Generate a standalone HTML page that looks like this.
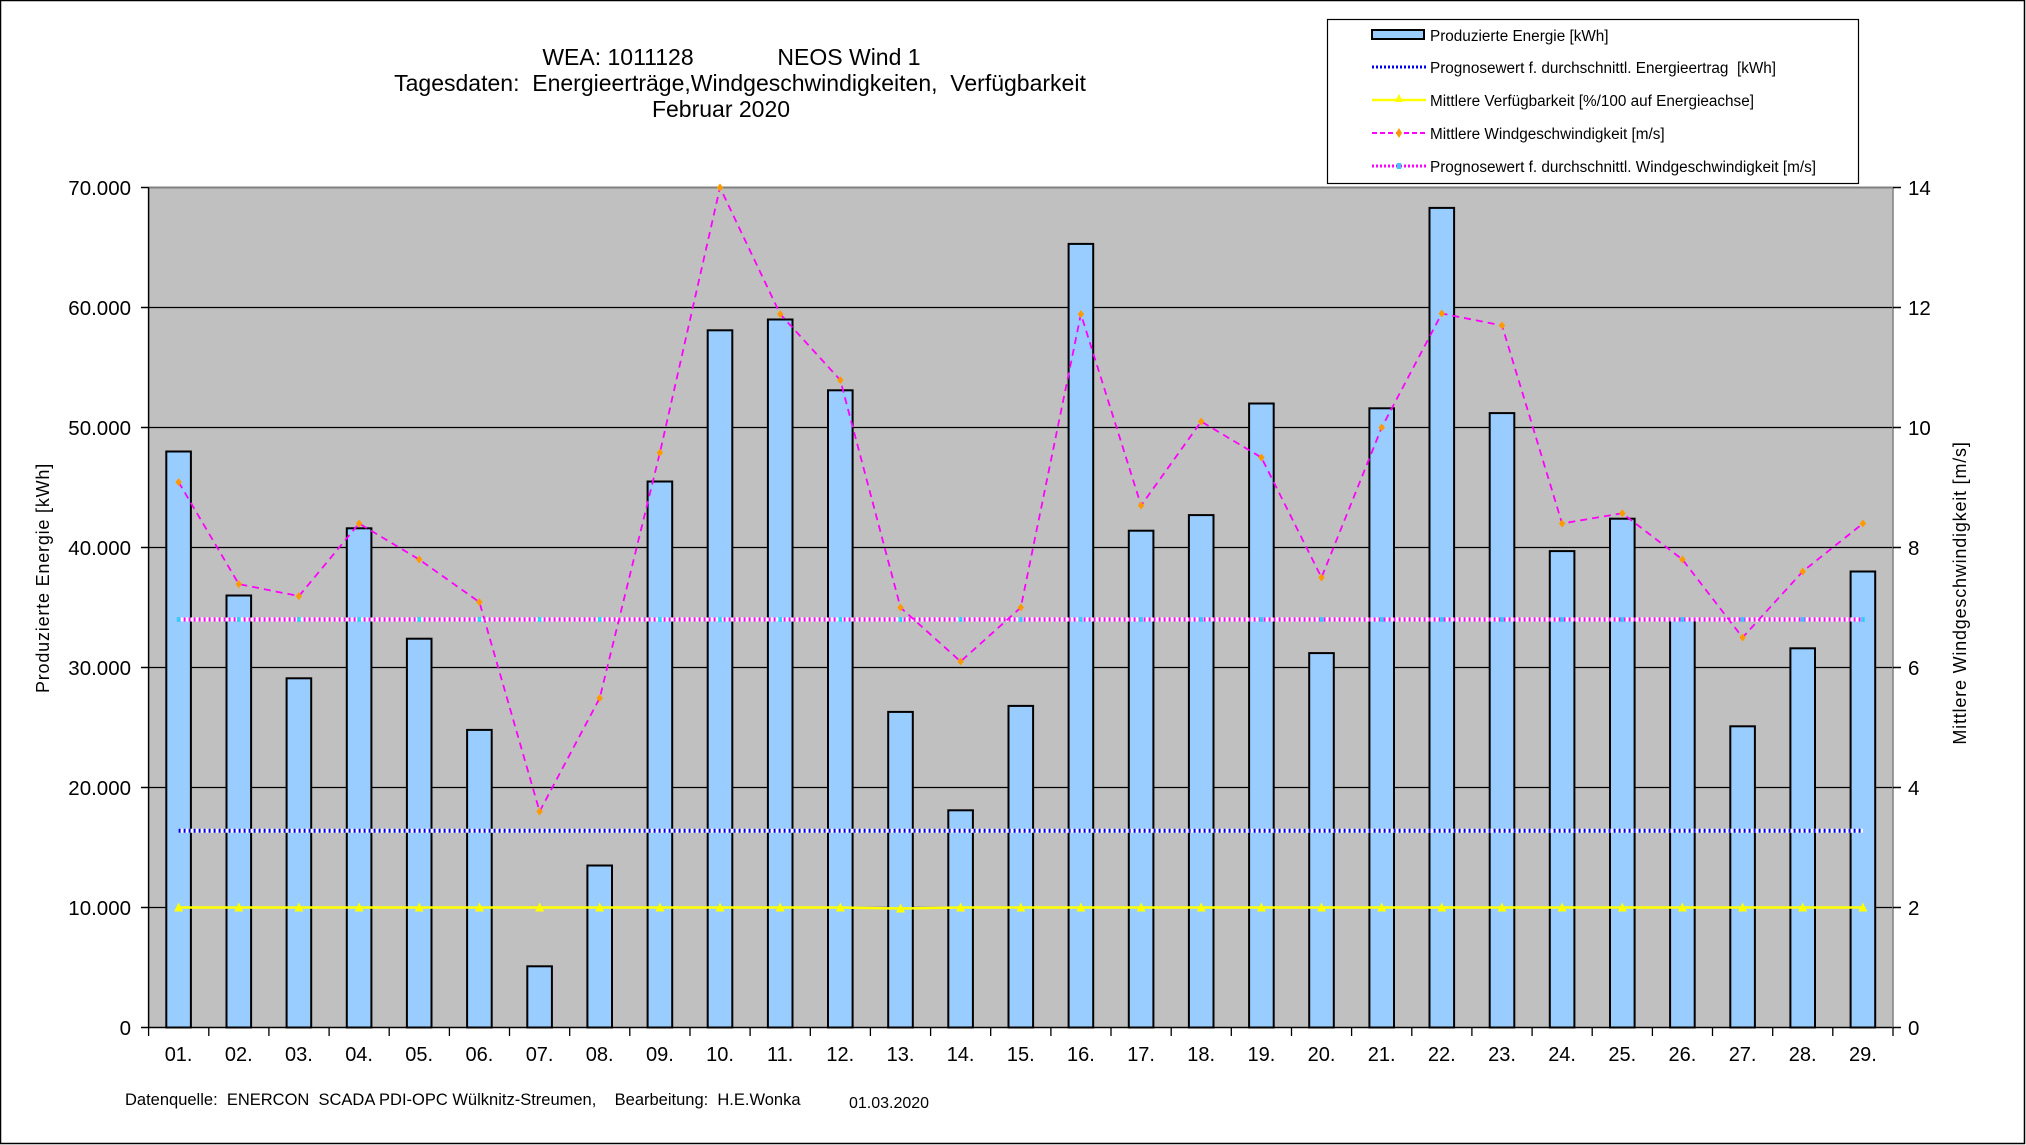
<!DOCTYPE html>
<html><head><meta charset="utf-8"><style>
html,body{margin:0;padding:0;background:#fff}
svg{display:block}
text{font-family:"Liberation Sans",Arial,sans-serif;fill:#000;white-space:pre}
</style></head><body>
<svg width="2026" height="1145" viewBox="0 0 2026 1145" xmlns="http://www.w3.org/2000/svg" xml:space="preserve">
<defs>
<marker id="dia" viewBox="-5 -5 10 10" markerWidth="8" markerHeight="10" markerUnits="userSpaceOnUse"><path d="M0,-5 L4,0 L0,5 L-4,0 Z" fill="#FF9900"/></marker>
<marker id="tri" viewBox="-5 -5 10 10" markerWidth="10" markerHeight="10" markerUnits="userSpaceOnUse"><path d="M0,-5 L4.5,4 L-4.5,4 Z" fill="#FFFF00"/></marker>
<marker id="cy" viewBox="-5 -5 10 10" markerWidth="6" markerHeight="6" markerUnits="userSpaceOnUse"><rect x="-3" y="-4" width="6" height="8" fill="#33CCFF"/></marker>
</defs>
<rect x="0.5" y="0.5" width="2024" height="1143" fill="#fff" stroke="#000" stroke-width="1.5"/>
<!-- title -->
<text x="618" y="65" font-size="23" text-anchor="middle">WEA: 1011128</text>
<text x="849" y="65" font-size="23" text-anchor="middle">NEOS Wind 1</text>
<text x="740" y="91" font-size="23" text-anchor="middle">Tagesdaten:  Energieerträge,Windgeschwindigkeiten,  Verfügbarkeit</text>
<text x="721" y="117" font-size="23" text-anchor="middle">Februar 2020</text>
<!-- plot area -->
<rect x="148.6" y="187.5" width="1744.4" height="840" fill="#C0C0C0"/>
<line x1="148.6" y1="187.5" x2="1893" y2="187.5" stroke="#808080" stroke-width="2"/>
<g stroke="#000" stroke-width="1.3">
<line x1="148.6" y1="907.5" x2="1893" y2="907.5"/>
<line x1="148.6" y1="787.5" x2="1893" y2="787.5"/>
<line x1="148.6" y1="667.5" x2="1893" y2="667.5"/>
<line x1="148.6" y1="547.5" x2="1893" y2="547.5"/>
<line x1="148.6" y1="427.5" x2="1893" y2="427.5"/>
<line x1="148.6" y1="307.5" x2="1893" y2="307.5"/>
</g>
<!-- bars -->
<g fill="#99CCFF" stroke="#000" stroke-width="2">
<rect x="166.3" y="451.5" width="24.6" height="576"/>
<rect x="226.5" y="595.5" width="24.6" height="432"/>
<rect x="286.6" y="678.3" width="24.6" height="349.2"/>
<rect x="346.8" y="528.3" width="24.6" height="499.2"/>
<rect x="406.9" y="638.7" width="24.6" height="388.8"/>
<rect x="467.1" y="729.9" width="24.6" height="297.6"/>
<rect x="527.3" y="966.3" width="24.6" height="61.2"/>
<rect x="587.4" y="865.5" width="24.6" height="162"/>
<rect x="647.6" y="481.5" width="24.6" height="546"/>
<rect x="707.7" y="330.3" width="24.6" height="697.2"/>
<rect x="767.9" y="319.5" width="24.6" height="708"/>
<rect x="828.0" y="390.3" width="24.6" height="637.2"/>
<rect x="888.2" y="711.9" width="24.6" height="315.6"/>
<rect x="948.3" y="810.3" width="24.6" height="217.2"/>
<rect x="1008.5" y="705.9" width="24.6" height="321.6"/>
<rect x="1068.6" y="243.9" width="24.6" height="783.6"/>
<rect x="1128.8" y="530.7" width="24.6" height="496.8"/>
<rect x="1188.9" y="515.1" width="24.6" height="512.4"/>
<rect x="1249.1" y="403.5" width="24.6" height="624"/>
<rect x="1309.2" y="653.1" width="24.6" height="374.4"/>
<rect x="1369.4" y="408.3" width="24.6" height="619.2"/>
<rect x="1429.5" y="207.9" width="24.6" height="819.6"/>
<rect x="1489.7" y="413.1" width="24.6" height="614.4"/>
<rect x="1549.8" y="551.1" width="24.6" height="476.4"/>
<rect x="1610.0" y="518.7" width="24.6" height="508.8"/>
<rect x="1670.1" y="619.5" width="24.6" height="408"/>
<rect x="1730.3" y="726.3" width="24.6" height="301.2"/>
<rect x="1790.4" y="648.3" width="24.6" height="379.2"/>
<rect x="1850.6" y="571.5" width="24.6" height="456"/>
</g>
<!-- energy forecast -->
<line x1="178.6" y1="830.7" x2="1862.9" y2="830.7" stroke="#fff" stroke-width="4"/>
<line x1="178.6" y1="830.7" x2="1862.9" y2="830.7" stroke="#0000EE" stroke-width="4" stroke-dasharray="2,3"/>
<!-- wind forecast -->
<line x1="178.6" y1="619.5" x2="1862.9" y2="619.5" stroke="#fff" stroke-width="4"/>
<polyline fill="none" stroke="#FF00FF" stroke-width="4" stroke-dasharray="2,3" marker-start="url(#cy)" marker-mid="url(#cy)" marker-end="url(#cy)"
points="178.6,619.5 238.8,619.5 298.9,619.5 359.1,619.5 419.2,619.5 479.4,619.5 539.6,619.5 599.7,619.5 659.9,619.5 720.0,619.5 780.2,619.5 840.3,619.5 900.5,619.5 960.6,619.5 1020.8,619.5 1080.9,619.5 1141.1,619.5 1201.2,619.5 1261.4,619.5 1321.5,619.5 1381.7,619.5 1441.8,619.5 1502.0,619.5 1562.1,619.5 1622.3,619.5 1682.4,619.5 1742.6,619.5 1802.7,619.5 1862.9,619.5"/>
<!-- availability -->
<polyline fill="none" stroke="#FFFF00" stroke-width="2.5" marker-start="url(#tri)" marker-mid="url(#tri)" marker-end="url(#tri)"
points="178.6,907.5 238.8,907.5 298.9,907.5 359.1,907.5 419.2,907.5 479.4,907.5 539.6,907.5 599.7,907.5 659.9,907.5 720.0,907.5 780.2,907.5 840.3,907.5 900.5,908.5 960.6,907.5 1020.8,907.5 1080.9,907.5 1141.1,907.5 1201.2,907.5 1261.4,907.5 1321.5,907.5 1381.7,907.5 1441.8,907.5 1502.0,907.5 1562.1,907.5 1622.3,907.5 1682.4,907.5 1742.6,907.5 1802.7,907.5 1862.9,907.5"/>
<!-- wind -->
<polyline fill="none" stroke="#FF00FF" stroke-width="1.8" stroke-dasharray="7,5" marker-start="url(#dia)" marker-mid="url(#dia)" marker-end="url(#dia)"
points="178.6,482.1 238.8,584.1 298.9,596.1 359.1,523.5 419.2,559.5 479.4,602.1 539.6,811.5 599.7,698.1 659.9,452.7 720.0,187.5 780.2,314.1 840.3,380.1 900.5,607.5 960.6,661.5 1020.8,607.5 1080.9,314.1 1141.1,505.5 1201.2,421.5 1261.4,457.5 1321.5,577.5 1381.7,427.5 1441.8,313.5 1502.0,325.5 1562.1,523.5 1622.3,513.3 1682.4,559.5 1742.6,637.5 1802.7,571.5 1862.9,523.5"/>
<!-- axes -->
<g stroke="#000" stroke-width="1.5">
<line x1="148.6" y1="187.5" x2="148.6" y2="1027.5"/>
<line x1="141" y1="1027.5" x2="1893" y2="1027.5"/>
<line x1="1893" y1="187.5" x2="1893" y2="1027.5" stroke="#808080"/>
<line x1="141" y1="187.5" x2="148.6" y2="187.5"/><line x1="141" y1="307.5" x2="148.6" y2="307.5"/><line x1="141" y1="427.5" x2="148.6" y2="427.5"/><line x1="141" y1="547.5" x2="148.6" y2="547.5"/><line x1="141" y1="667.5" x2="148.6" y2="667.5"/><line x1="141" y1="787.5" x2="148.6" y2="787.5"/><line x1="141" y1="907.5" x2="148.6" y2="907.5"/>
<line x1="1893" y1="187.5" x2="1901" y2="187.5"/><line x1="1893" y1="307.5" x2="1901" y2="307.5"/><line x1="1893" y1="427.5" x2="1901" y2="427.5"/><line x1="1893" y1="547.5" x2="1901" y2="547.5"/><line x1="1893" y1="667.5" x2="1901" y2="667.5"/><line x1="1893" y1="787.5" x2="1901" y2="787.5"/><line x1="1893" y1="907.5" x2="1901" y2="907.5"/><line x1="1893" y1="1027.5" x2="1901" y2="1027.5"/>
</g>
<g stroke="#000" stroke-width="1.3">
<line x1="148.6" y1="1027.5" x2="148.6" y2="1036"/><line x1="208.8" y1="1027.5" x2="208.8" y2="1036"/><line x1="268.9" y1="1027.5" x2="268.9" y2="1036"/><line x1="329.1" y1="1027.5" x2="329.1" y2="1036"/><line x1="389.2" y1="1027.5" x2="389.2" y2="1036"/><line x1="449.4" y1="1027.5" x2="449.4" y2="1036"/><line x1="509.5" y1="1027.5" x2="509.5" y2="1036"/><line x1="569.7" y1="1027.5" x2="569.7" y2="1036"/><line x1="629.8" y1="1027.5" x2="629.8" y2="1036"/><line x1="690.0" y1="1027.5" x2="690.0" y2="1036"/><line x1="750.1" y1="1027.5" x2="750.1" y2="1036"/><line x1="810.3" y1="1027.5" x2="810.3" y2="1036"/><line x1="870.4" y1="1027.5" x2="870.4" y2="1036"/><line x1="930.6" y1="1027.5" x2="930.6" y2="1036"/><line x1="990.7" y1="1027.5" x2="990.7" y2="1036"/><line x1="1050.9" y1="1027.5" x2="1050.9" y2="1036"/><line x1="1111.0" y1="1027.5" x2="1111.0" y2="1036"/><line x1="1171.2" y1="1027.5" x2="1171.2" y2="1036"/><line x1="1231.3" y1="1027.5" x2="1231.3" y2="1036"/><line x1="1291.5" y1="1027.5" x2="1291.5" y2="1036"/><line x1="1351.6" y1="1027.5" x2="1351.6" y2="1036"/><line x1="1411.8" y1="1027.5" x2="1411.8" y2="1036"/><line x1="1471.9" y1="1027.5" x2="1471.9" y2="1036"/><line x1="1532.1" y1="1027.5" x2="1532.1" y2="1036"/><line x1="1592.2" y1="1027.5" x2="1592.2" y2="1036"/><line x1="1652.4" y1="1027.5" x2="1652.4" y2="1036"/><line x1="1712.5" y1="1027.5" x2="1712.5" y2="1036"/><line x1="1772.7" y1="1027.5" x2="1772.7" y2="1036"/><line x1="1832.8" y1="1027.5" x2="1832.8" y2="1036"/><line x1="1893" y1="1027.5" x2="1893" y2="1036"/>
</g>
<!-- left ticks -->
<g font-size="20.5" text-anchor="end">
<text x="131" y="195">70.000</text><text x="131" y="315">60.000</text><text x="131" y="435">50.000</text><text x="131" y="555">40.000</text><text x="131" y="675">30.000</text><text x="131" y="795">20.000</text><text x="131" y="915">10.000</text><text x="131" y="1035">0</text>
</g>
<g font-size="20.5" text-anchor="start">
<text x="1908" y="195">14</text><text x="1908" y="315">12</text><text x="1908" y="435">10</text><text x="1908" y="555">8</text><text x="1908" y="675">6</text><text x="1908" y="795">4</text><text x="1908" y="915">2</text><text x="1908" y="1035">0</text>
</g>
<g font-size="20" text-anchor="middle">
<text x="178.6" y="1061">01.</text><text x="238.8" y="1061">02.</text><text x="298.9" y="1061">03.</text><text x="359.1" y="1061">04.</text><text x="419.2" y="1061">05.</text><text x="479.4" y="1061">06.</text><text x="539.6" y="1061">07.</text><text x="599.7" y="1061">08.</text><text x="659.9" y="1061">09.</text><text x="720.0" y="1061">10.</text><text x="780.2" y="1061">11.</text><text x="840.3" y="1061">12.</text><text x="900.5" y="1061">13.</text><text x="960.6" y="1061">14.</text><text x="1020.8" y="1061">15.</text><text x="1080.9" y="1061">16.</text><text x="1141.1" y="1061">17.</text><text x="1201.2" y="1061">18.</text><text x="1261.4" y="1061">19.</text><text x="1321.5" y="1061">20.</text><text x="1381.7" y="1061">21.</text><text x="1441.8" y="1061">22.</text><text x="1502.0" y="1061">23.</text><text x="1562.1" y="1061">24.</text><text x="1622.3" y="1061">25.</text><text x="1682.4" y="1061">26.</text><text x="1742.6" y="1061">27.</text><text x="1802.7" y="1061">28.</text><text x="1862.9" y="1061">29.</text>
</g>
<text font-size="18" letter-spacing="0.8" text-anchor="middle" transform="translate(49,578) rotate(-90)">Produzierte Energie [kWh]</text>
<text font-size="18" letter-spacing="0.8" text-anchor="middle" transform="translate(1966,593) rotate(-90)">Mittlere Windgeschwindigkeit [m/s]</text>
<text x="125" y="1105" font-size="16.5">Datenquelle:  ENERCON  SCADA PDI-OPC Wülknitz-Streumen,    Bearbeitung:  H.E.Wonka</text>
<text x="849" y="1108" font-size="16">01.03.2020</text>
<!-- legend -->
<rect x="1327.5" y="19.5" width="531" height="164" fill="#fff" stroke="#000" stroke-width="1.2"/>
<rect x="1372" y="30" width="52" height="9" fill="#99CCFF" stroke="#000" stroke-width="2"/>
<text x="1430" y="41" font-size="15.3">Produzierte Energie [kWh]</text>
<line x1="1372" y1="67" x2="1426" y2="67" stroke="#0000EE" stroke-width="3" stroke-dasharray="2,2"/>
<text x="1430" y="73" font-size="15.3">Prognosewert f. durchschnittl. Energieertrag  [kWh]</text>
<line x1="1372" y1="100" x2="1426" y2="100" stroke="#FFFF00" stroke-width="2.5"/>
<path d="M1399,94 L1403,102 L1395,102 Z" fill="#FFFF00"/>
<text x="1430" y="106" font-size="15.3">Mittlere Verfügbarkeit [%/100 auf Energieachse]</text>
<line x1="1372" y1="133" x2="1426" y2="133" stroke="#FF00FF" stroke-width="2" stroke-dasharray="5,3"/>
<path d="M1399,128 L1402,133 L1399,138 L1396,133 Z" fill="#FF9900"/>
<text x="1430" y="139" font-size="15.3">Mittlere Windgeschwindigkeit [m/s]</text>
<line x1="1372" y1="166" x2="1426" y2="166" stroke="#FF00FF" stroke-width="3" stroke-dasharray="2,2"/>
<rect x="1397" y="163" width="4" height="6" fill="#33CCFF"/>
<text x="1430" y="172" font-size="15.3">Prognosewert f. durchschnittl. Windgeschwindigkeit [m/s]</text>
</svg>
</body></html>
